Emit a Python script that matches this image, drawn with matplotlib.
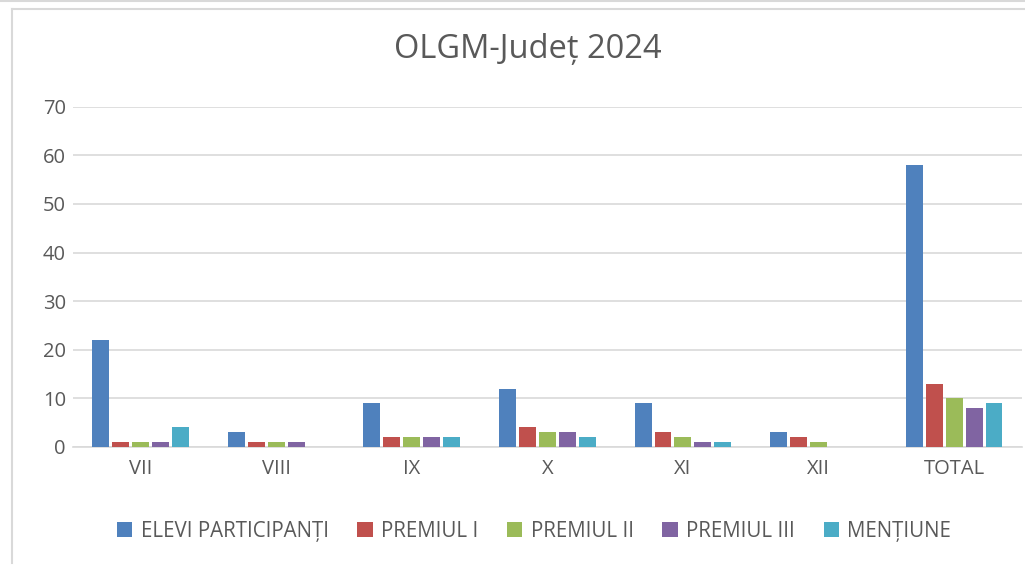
import matplotlib
matplotlib.use("Agg")
import matplotlib.pyplot as plt
from matplotlib.lines import Line2D
import numpy as np

categories = ["VII", "VIII", "IX", "X", "XI", "XII", "TOTAL"]
series_names = ["ELEVI PARTICIPANȚI", "PREMIUL I", "PREMIUL II", "PREMIUL III", "MENȚIUNE"]
elevi = [22, 3, 9, 12, 9, 3, 58]
premiul1 = [1, 1, 2, 4, 3, 2, 13]
premiul2 = [1, 1, 2, 3, 2, 1, 10]
premiul3 = [1, 1, 2, 3, 1, 0, 8]
mentiune = [4, 0, 2, 2, 1, 0, 9]
colors = ["#4F81BD", "#C0504D", "#9BBB59", "#8064A2", "#4BACC6"]

plt.rcParams['font.family'] = ['Open Sans', 'DejaVu Sans']

fig = plt.figure(figsize=(10.25, 5.65), dpi=100)
ax = fig.add_axes([0.071, 0.209, 0.926, 0.602])

x = np.arange(len(categories))
slot = 0.147
width = 0.125
series = [elevi, premiul1, premiul2, premiul3, mentiune]
for i, (vals, name, c) in enumerate(zip(series, series_names, colors)):
    ax.bar(x + (i - 2) * slot, vals, width=width, color=c, label=name, zorder=3)

ax.set_xlim(-0.5, len(categories) - 0.5)
ax.set_ylim(0, 70)
ax.set_yticks(range(0, 71, 10))
ax.set_xticks(x)
ax.set_xticklabels(categories)
ax.grid(axis='y', color='#D9D9D9', linewidth=1.2, zorder=0)
for s in ['top', 'right', 'left']:
    ax.spines[s].set_visible(False)
ax.spines['bottom'].set_color('#D9D9D9')
ax.spines['bottom'].set_linewidth(1.2)
ax.tick_params(axis='both', length=0, labelsize=14.5, colors='#595959')
ax.tick_params(axis='y', pad=5)
ax.tick_params(axis='x', pad=9)

fig.text(0.515, 0.912, "OLGM-Județ 2024", ha='center', va='center', fontsize=23.5, color='#595959')

leg = fig.legend(loc='center', bbox_to_anchor=(0.521, 0.06), ncol=5, frameon=False,
                 fontsize=14.8, handlelength=0.75, handleheight=0.75, columnspacing=1.4,
                 handletextpad=0.4)
for t in leg.get_texts():
    t.set_color('#595959')

# chart frame edges
W, H = 1025, 565
fig.add_artist(Line2D([0, 1], [1 - 0.5 / H, 1 - 0.5 / H], transform=fig.transFigure,
                      color='#D9D9D9', linewidth=1.5))
fig.add_artist(Line2D([11.5 / W, 1], [1 - 8.5 / H, 1 - 8.5 / H], transform=fig.transFigure,
                      color='#D9D9D9', linewidth=1.5))
fig.add_artist(Line2D([11.5 / W, 11.5 / W], [1 - 8.5 / H, 1 - 563 / H], transform=fig.transFigure,
                      color='#D9D9D9', linewidth=1.5))

fig.savefig("out.png", dpi=100, facecolor='white')
